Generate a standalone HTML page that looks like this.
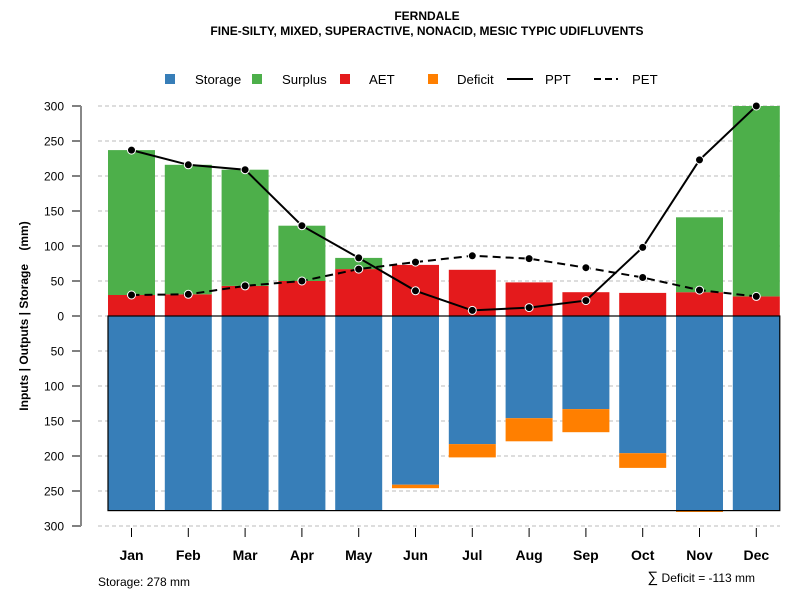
<!DOCTYPE html>
<html><head><meta charset="utf-8"><style>
body{margin:0;background:#fff;}
svg text{font-family:"Liberation Sans",Arial,sans-serif;}
</style></head><body>
<svg id="chart" width="800" height="600" viewBox="0 0 800 600">
<text x="427" y="20" text-anchor="middle" font-size="12" font-weight="bold">FERNDALE</text>
<text x="427" y="35" text-anchor="middle" font-size="12" font-weight="bold">FINE-SILTY, MIXED, SUPERACTIVE, NONACID, MESIC TYPIC UDIFLUVENTS</text>
<g>
<rect x="165" y="74" width="10" height="10" fill="#377EB8"/>
<text x="195" y="84" font-size="13.2">Storage</text>
<rect x="252" y="74" width="10" height="10" fill="#4DAF4A"/>
<text x="282" y="84" font-size="13.2">Surplus</text>
<rect x="340" y="74" width="10" height="10" fill="#E41A1C"/>
<text x="369" y="84" font-size="13.2">AET</text>
<rect x="428" y="74" width="10" height="10" fill="#FF7F00"/>
<text x="457" y="84" font-size="13.2">Deficit</text>
<line x1="507" y1="79" x2="533" y2="79" stroke="#000" stroke-width="2"/>
<text x="545" y="84" font-size="13.2">PPT</text>
<line x1="594" y1="79" x2="618" y2="79" stroke="#000" stroke-width="2" stroke-dasharray="7,4"/>
<text x="632" y="84" font-size="13.2">PET</text>
</g>
<text transform="translate(28,316) rotate(-90)" text-anchor="middle" font-size="12" font-weight="bold" xml:space="preserve">Inputs | Outputs | Storage    (mm)</text>
<text x="98" y="586" font-size="12">Storage: 278 mm</text>
<text x="755" y="582" text-anchor="end" font-size="12"><tspan font-size="15">∑</tspan> Deficit = -113 mm</text>
<g id="grid"></g><g id="bars"></g><g id="lines"></g><g id="axes"></g>
</svg>
<script>
const months=["Jan","Feb","Mar","Apr","May","Jun","Jul","Aug","Sep","Oct","Nov","Dec"];
const aet=[30,31,43,50,67,73,66,48,34,33,34,28];
const surplus=[207,185,166,79,16,0,0,0,0,0,107,272];
const ppt=[237,216,209,129,83,36,8,12,22,98,223,300];
const pet=[30,31,43,50,67,77,86,82,69,55,37,28];
const storage=[278,278,278,278,278,241,183,146,133,196,278,278];
const deficit=[0,0,0,0,0,5,19,33,33,21,2,0];
const yTicks=[300,250,200,150,100,50,0,-50,-100,-150,-200,-250,-300];
const yTickLabels=["300","250","200","150","100","50","0","50","100","150","200","250","300"];
const storageCap=278;
const NS="http://www.w3.org/2000/svg";
const y=v=>316-v*0.7;
const x=i=>131.5+i*56.8;
const bw=47;
function mk(tag,attrs,parent){const e=document.createElementNS(NS,tag);for(const k in attrs)e.setAttribute(k,attrs[k]);document.getElementById(parent).appendChild(e);return e;}
yTicks.forEach((t,i)=>{
 const g=mk('line',{x1:98,x2:780,y1:y(t),y2:y(t),stroke:'#bbb','stroke-dasharray':'4,3'},'grid');
 
 
 const tk=mk('line',{x1:72,x2:81,y1:y(t),y2:y(t),stroke:'#000'},'axes');
 
 
 const tl=mk('text',{x:64,y:y(t)+4.5,'text-anchor':'end','font-size':12},'axes');
 tl.textContent=yTickLabels[i];
 
 
});
const ax=mk('line',{x1:81,x2:81,y1:y(300),y2:y(-300),stroke:'#888','stroke-width':2},'axes');


months.forEach((m,i)=>{
 const cx=x(i),l=cx-bw/2;
 const s=mk('rect',{x:l,y:y(0),width:bw,height:storage[i]*0.7,fill:'#377EB8'},'bars');
 
 
 if(deficit[i]>0){const d=mk('rect',{x:l,y:y(-storage[i]),width:bw,height:deficit[i]*0.7,fill:'#FF7F00'},'bars');
 
 }
 const a=mk('rect',{x:l,y:y(aet[i]),width:bw,height:aet[i]*0.7,fill:'#E41A1C'},'bars');
 
 
 if(surplus[i]>0){const su=mk('rect',{x:l,y:y(aet[i]+surplus[i]),width:bw,height:surplus[i]*0.7,fill:'#4DAF4A'},'bars');
 
 }
 const tk=mk('line',{x1:cx,x2:cx,y1:528,y2:537,stroke:'#000'},'axes');
 
 
 const tl=mk('text',{x:cx,y:560,'text-anchor':'middle','font-size':14,'font-weight':'bold'},'axes');
 tl.textContent=m;
 
 
});
const box=mk('rect',{x:x(0)-bw/2,y:y(0),width:x(11)-x(0)+bw,height:storageCap*0.7,fill:'none',stroke:'#000','stroke-width':1.2},'bars');


function series(vals,name,dash){
 const p=mk('polyline',{points:vals.map((v,i)=>x(i)+','+y(v)).join(' '),fill:'none',stroke:'#000','stroke-width':2,'stroke-dasharray':dash},'lines');
 
 
 vals.forEach((v,i)=>{const c=mk('circle',{cx:x(i),cy:y(v),r:4,fill:'#000',stroke:'#fff','stroke-width':1},'lines');
 
 });
}
series(pet,'pet','8,5');
series(ppt,'ppt','none');
</script>
</body></html>
